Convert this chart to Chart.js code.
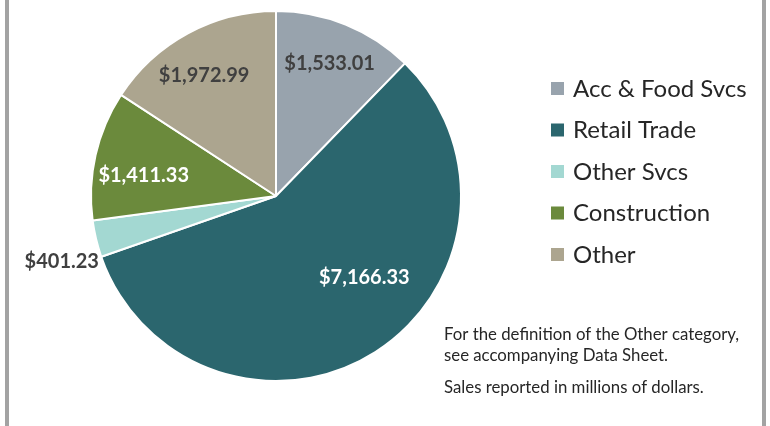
<!DOCTYPE html>
<html>
<head>
<meta charset="utf-8">
<script src="https://cdn.jsdelivr.net/npm/chart.js@4"></script>
<style>
  html, body { margin: 0; padding: 0; background: #fff; }
  #wrap { position: relative; width: 770px; height: 426px; }
  #wrap::before, #wrap::after {
    content: ''; position: absolute; top: 0; bottom: 0; width: 4px; background: #a3a3a3;
  }
  #wrap::before { left: 5px; }
  #wrap::after { left: 762px; }
</style>
</head>
<body>
<div id="wrap"><canvas id="salesPie" width="770" height="426"></canvas></div>
<script>
const categories = ['Acc & Food Svcs', 'Retail Trade', 'Other Svcs', 'Construction', 'Other'];
const salesValues = [1533.01, 7166.33, 401.23, 1411.33, 1972.99];
const sliceColors = ['#98a3ad', '#2b666e', '#a3d8d2', '#6b8a3c', '#aca58f'];
const notes = [
    'For the definition of the Other category,',
    'see accompanying Data Sheet.',
    'Sales reported in millions of dollars.'
];

const FONT = 'Lato, "Open Sans", sans-serif';

function money(v) {
    return '$' + v.toLocaleString('en-US', { minimumFractionDigits: 2, maximumFractionDigits: 2 });
}

// labels on (or beside) each slice, legend and footnotes
const pieExtras = {
    id: 'pieExtras',
    afterDatasetsDraw(chart, args, opts) {
        const ctx = chart.ctx;
        const meta = chart.getDatasetMeta(0);
        ctx.save();
        ctx.font = 'bold 20px ' + FONT;
        ctx.textBaseline = 'middle';
        meta.data.forEach((arc, i) => {
            const place = opts.placement[i];
            const mid = (arc.startAngle + arc.endAngle) / 2 + place.shift;
            const dist = arc.outerRadius * place.r;
            const x = arc.x + Math.cos(mid) * dist;
            const y = arc.y + Math.sin(mid) * dist;
            ctx.fillStyle = place.light ? '#ffffff' : '#404040';
            ctx.textAlign = place.align || 'center';
            ctx.fillText(money(salesValues[i]), x, y);
        });

        // legend
        ctx.font = '24px ' + FONT;
        ctx.textAlign = 'left';
        categories.forEach((name, i) => {
            const y = 89 + i * 41.5;
            ctx.fillStyle = sliceColors[i];
            ctx.fillRect(551, y - 7, 13, 13);
            ctx.fillStyle = '#262626';
            ctx.fillText(name, 573, y);
        });

        // footnotes
        ctx.font = '16.8px ' + FONT;
        ctx.fillStyle = '#262626';
        [335, 356, 388].forEach((y, i) => ctx.fillText(notes[i], 444, y));
        ctx.restore();
    }
};

new Chart(document.getElementById('salesPie'), {
    type: 'pie',
    data: {
        labels: categories,
        datasets: [{
            data: salesValues,
            backgroundColor: sliceColors,
            borderColor: '#ffffff',
            borderWidth: 2
        }]
    },
    options: {
        responsive: false,
        animation: false,
        layout: { padding: { top: 10, bottom: 44, left: 90, right: 308 } },
        plugins: {
            legend: { display: false },
            tooltip: { enabled: false },
            pieExtras: {
                placement: [
                    { r: 0.77, shift: 0 },
                    { r: 0.65, shift: -0.258, light: true },
                    { r: 1.02, shift: -0.12, align: 'right' },
                    { r: 0.724, shift: -0.066, light: true },
                    { r: 0.76, shift: -0.04 }
                ]
            }
        }
    },
    plugins: [pieExtras]
});
</script>
</body>
</html>
